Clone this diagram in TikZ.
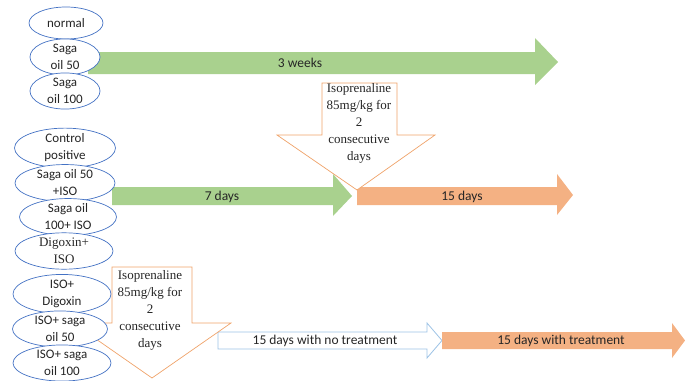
\documentclass[tikz,border=0pt]{standalone}
\usepackage{fontspec}
\setmainfont{Liberation Serif}
\newfontfamily\calib{Carlito}
\usetikzlibrary{shapes.geometric}
\definecolor{grn}{HTML}{A9D18E}
\definecolor{salmon}{HTML}{F4B183}
\definecolor{orng}{HTML}{F0A36A}
\definecolor{lblue}{HTML}{9DC3E6}
\definecolor{eblue}{HTML}{4472C4}
\definecolor{txt}{HTML}{262626}
\tikzset{
  grp/.style={ellipse, draw=eblue, line width=0.7pt, fill=white, inner sep=0pt,
    align=center, font=\calib\fontsize{13}{17}\selectfont, text=txt},
  greenarrow/.style={fill=grn, draw=none},
  salmonarrow/.style={fill=salmon, draw=none},
  blueoutline/.style={fill=white, draw=lblue, line width=0.8pt},
  downarrow/.style={fill=white, draw=orng, line width=0.7pt},
  lbl/.style={font=\calib\fontsize{13.5}{16}\selectfont, text=txt, inner sep=0pt},
  serif/.style={font=\rmfamily\fontsize{13}{17}\selectfont, align=center, text=txt, inner sep=0pt}
}
\begin{document}
\begin{tikzpicture}[x=1pt,y=-1pt]
\useasboundingbox (0,0) rectangle (685,380);
% arrows
\draw[greenarrow] (88,52) -- (535,52) -- (535,38) -- (558,62) -- (535,85) -- (535,74) -- (88,74) -- cycle;
\node[lbl] (w3) at (300,63) {3 weeks};
\draw[greenarrow] (112,187) -- (333,187) -- (333,174) -- (352,196) -- (333,216) -- (333,205) -- (112,205) -- cycle;
\node[lbl] (d7) at (222,197) {7 days};
\draw[salmonarrow] (357,187) -- (557,187) -- (557,174) -- (573,195) -- (557,215) -- (557,205) -- (357,205) -- cycle;
\node[lbl] (d15) at (462,197) {15 days};
\draw[downarrow] (322,83) -- (397,83) -- (397,135) -- (435,135) -- (357,190) -- (277,135) -- (322,135) -- cycle;
\node[serif] (iso1) at (359,123) {Isoprenaline\\85mg/kg for\\2\\consecutive\\days};
\draw[blueoutline] (218,332) -- (427,332) -- (427,323) -- (442,340.5) -- (427,358) -- (427,349) -- (218,349) -- cycle;
\node[lbl] (nt) at (325,341) {15 days with no treatment};
\draw[salmonarrow] (442,332) -- (672,332) -- (672,323) -- (685,340.5) -- (672,358) -- (672,349) -- (442,349) -- cycle;
\node[lbl] (wt) at (561,341) {15 days with treatment};
\draw[downarrow] (112,267) -- (192,267) -- (192,323) -- (231,323) -- (152,378) -- (73,323) -- (112,323) -- cycle;
\node[serif] (iso2) at (150,310) {Isoprenaline\\85mg/kg for\\2\\consecutive\\days};
% groups
\node[grp, minimum width=74pt, minimum height=32pt] (n1) at (66,23) {normal};
\node[grp, minimum width=70pt, minimum height=34pt] (n2) at (65,57) {Saga\\oil 50};
\node[grp, minimum width=70pt, minimum height=31pt] (n3) at (65,91) {Saga\\oil 100};
\node[grp, minimum width=101pt, minimum height=33pt] (c1) at (65,148) {Control\\positive};
\node[grp, minimum width=100pt, minimum height=34pt] (c2) at (65,183) {Saga oil 50\\+ISO};
\node[grp, minimum width=97pt, minimum height=32pt] (c3) at (68,217) {Saga oil\\100+ ISO};
\node[grp, minimum width=98pt, minimum height=34pt, font=\rmfamily\fontsize{13}{17}\selectfont] (c4) at (64,251) {Digoxin+\\ISO};
\node[grp, minimum width=98pt, minimum height=32pt] (t1) at (62,294) {ISO+\\Digoxin};
\node[grp, minimum width=95pt, minimum height=36pt] (t2) at (60,329) {ISO+ saga\\oil 50};
\node[grp, minimum width=98pt, minimum height=34pt] (t3) at (62,363) {ISO+ saga\\oil 100};
\end{tikzpicture}
\end{document}
